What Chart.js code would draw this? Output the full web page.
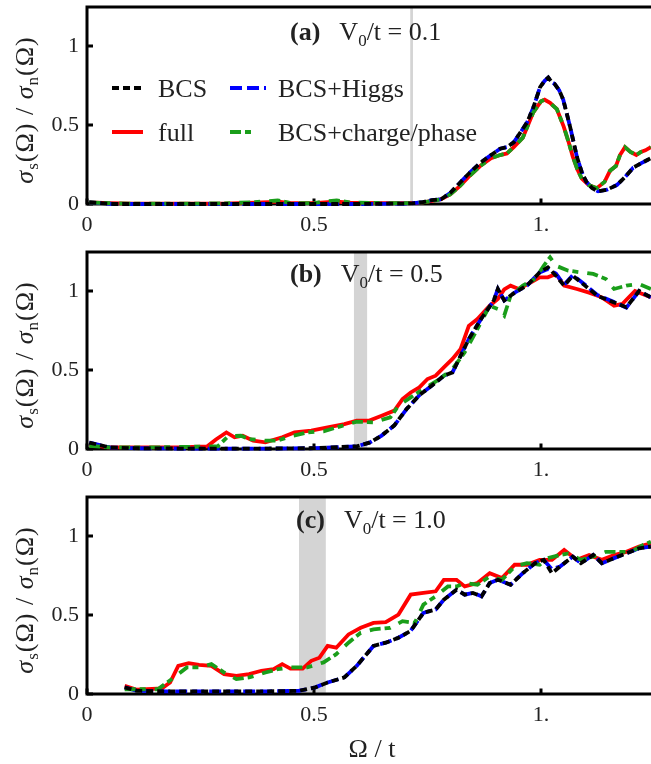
<!DOCTYPE html>
<html><head><meta charset="utf-8">
<script src="https://cdn.jsdelivr.net/npm/chart.js@4/dist/chart.umd.min.js"></script>
<style>
body{margin:0;background:#fff;width:651px;height:764px;overflow:hidden;position:relative;font-family:"Liberation Serif",serif;color:#222;}
canvas{position:absolute;left:0;}
.yt{position:absolute;white-space:nowrap;font-size:26px;letter-spacing:1px;transform:translate(-50%,-50%) rotate(-90deg);}
.yt i{font-style:italic;}
.yt sub{font-size:17px;vertical-align:-5px;}
.pt{position:absolute;white-space:nowrap;font-size:26px;line-height:26px;}
.pt sub{font-size:17px;vertical-align:-6px;}
.lg{position:absolute;white-space:nowrap;font-size:26px;line-height:26px;}
.sw{position:absolute;}
.xt{position:absolute;white-space:nowrap;font-size:26px;transform:translate(-50%,-50%);}
</style>
</head><body>
<canvas id="ca" width="651" height="245" style="top:0px"></canvas>
<canvas id="cb" width="651" height="245" style="top:245px"></canvas>
<canvas id="cc" width="651" height="245" style="top:490px"></canvas>

<div class="yt" style="left:26px;top:110px"><i>σ</i><sub>s</sub>(Ω) / <i>σ</i><sub>n</sub>(Ω)</div>
<div class="yt" style="left:26px;top:355px"><i>σ</i><sub>s</sub>(Ω) / <i>σ</i><sub>n</sub>(Ω)</div>
<div class="yt" style="left:26px;top:600px"><i>σ</i><sub>s</sub>(Ω) / <i>σ</i><sub>n</sub>(Ω)</div>

<div class="pt" style="left:290px;top:19px"><b>(a)</b>&nbsp;&nbsp; V<sub>0</sub>/t = 0.1</div>
<div class="pt" style="left:290px;top:261px"><b>(b)</b>&nbsp;&nbsp; V<sub>0</sub>/t = 0.5</div>
<div class="pt" style="left:296px;top:507px"><b>(c)</b>&nbsp;&nbsp; V<sub>0</sub>/t = 1.0</div>

<svg class="sw" style="left:112px;top:83px" width="30" height="10"><line x1="0" y1="5" x2="30" y2="5" stroke="#000" stroke-width="4" stroke-dasharray="7 4"/></svg>
<div class="lg" style="left:158px;top:76px">BCS</div>
<svg class="sw" style="left:230px;top:83px" width="36" height="10"><line x1="0" y1="5" x2="36" y2="5" stroke="#0000ff" stroke-width="4" stroke-dasharray="12 5"/></svg>
<div class="lg" style="left:278px;top:76px">BCS+Higgs</div>
<svg class="sw" style="left:112px;top:127px" width="31" height="10"><line x1="0" y1="5" x2="31" y2="5" stroke="#ff0000" stroke-width="4"/></svg>
<div class="lg" style="left:158px;top:120px">full</div>
<svg class="sw" style="left:230px;top:127px" width="30" height="10"><line x1="0" y1="5" x2="30" y2="5" stroke="#1a9e1a" stroke-width="4" stroke-dasharray="11 4 6 9"/></svg>
<div class="lg" style="left:278px;top:120px">BCS+charge/phase</div>

<div class="xt" style="left:372px;top:749px">Ω / t</div>

<script>
// ---------- axis ticks ----------
const X_MIN = 0, X_MAX = 1.2423;
const Y_MIN = 0, Y_MAX = 1.247;
const X_TICKS = [0, 0.5, 1];
const X_TICK_LABELS = ["0", "0.5", "1."];
const Y_TICKS = [0, 0.5, 1];
const Y_TICK_LABELS = ["0", "0.5", "1"];

// ---------- grey bands (Ω/t) ----------
const BAND_A = [0.712, 0.718];
const BAND_B = [0.588, 0.617];
const BAND_C = [0.467, 0.526];

// ---------- panel (a) V0/t = 0.1 ----------
const A_BCS_X = [0.005,0.03,0.06,0.1,0.2,0.3,0.4,0.5,0.6,0.7,0.72,0.74,0.76,0.78,0.8,0.82,0.84,0.866,0.89,0.91,0.925,0.94,0.954,0.97,0.983,0.998,1.008,1.016,1.024,1.03,1.04,1.049,1.064,1.079,1.09,1.1,1.113,1.126,1.145,1.167,1.185,1.203,1.222,1.242];
const A_BCS_Y = [0.01,0.005,0,0,0,0,0,0,0,0.003,0.005,0.012,0.025,0.03,0.07,0.13,0.19,0.26,0.31,0.35,0.36,0.39,0.45,0.52,0.61,0.74,0.78,0.80,0.77,0.76,0.72,0.66,0.49,0.30,0.2,0.14,0.1,0.08,0.09,0.12,0.17,0.23,0.26,0.29];
const A_HIG_X = [0.005,0.03,0.06,0.1,0.2,0.3,0.4,0.5,0.6,0.7,0.72,0.74,0.76,0.78,0.8,0.82,0.84,0.866,0.89,0.91,0.925,0.94,0.954,0.97,0.983,0.998,1.008,1.016,1.024,1.03,1.04,1.049,1.064,1.079,1.09,1.1,1.113,1.126,1.145,1.167,1.185,1.203,1.222,1.242];
const A_HIG_Y = [0.01,0.005,0,0,0,0,0,0,0,0.003,0.005,0.012,0.025,0.03,0.07,0.13,0.19,0.26,0.31,0.35,0.36,0.39,0.45,0.52,0.61,0.74,0.78,0.80,0.77,0.76,0.72,0.66,0.49,0.30,0.2,0.14,0.1,0.08,0.09,0.12,0.17,0.23,0.26,0.29];
const A_FULL_X = [0.005,0.05,0.1,0.2,0.3,0.37,0.4,0.42,0.45,0.5,0.53,0.55,0.58,0.65,0.7,0.72,0.74,0.76,0.78,0.8,0.82,0.84,0.866,0.89,0.91,0.925,0.94,0.96,0.983,1.0,1.008,1.02,1.035,1.05,1.06,1.07,1.08,1.09,1.105,1.123,1.14,1.152,1.165,1.174,1.185,1.197,1.21,1.22,1.23,1.242];
const A_FULL_Y = [0.01,0.005,0.002,0.002,0.003,0.008,0.012,0.015,0.005,0.005,0.012,0.015,0.008,0.005,0.005,0.006,0.01,0.02,0.03,0.06,0.11,0.17,0.24,0.29,0.31,0.32,0.36,0.42,0.58,0.65,0.66,0.64,0.60,0.49,0.40,0.30,0.22,0.16,0.12,0.10,0.14,0.21,0.24,0.31,0.36,0.33,0.31,0.33,0.34,0.36];
const A_CP_X = [0.005,0.05,0.1,0.2,0.3,0.37,0.4,0.42,0.45,0.5,0.53,0.55,0.58,0.65,0.7,0.72,0.74,0.76,0.78,0.8,0.82,0.84,0.866,0.89,0.91,0.925,0.94,0.96,0.983,1.0,1.008,1.02,1.035,1.05,1.06,1.07,1.08,1.09,1.105,1.123,1.14,1.152,1.165,1.174,1.185,1.197,1.21,1.22,1.23,1.242];
const A_CP_Y = [0.01,0.005,0.002,0.002,0.004,0.012,0.018,0.022,0.006,0.006,0.018,0.022,0.01,0.006,0.005,0.006,0.01,0.02,0.03,0.06,0.11,0.17,0.24,0.29,0.31,0.32,0.36,0.42,0.58,0.65,0.66,0.64,0.60,0.49,0.40,0.30,0.22,0.16,0.12,0.10,0.14,0.21,0.24,0.31,0.36,0.33,0.31,0.33,0.34,0.36];

// ---------- panel (b) V0/t = 0.5 ----------
const B_BCS_X = [0.005,0.05,0.1,0.2,0.3,0.4,0.5,0.594,0.622,0.649,0.677,0.704,0.732,0.759,0.786,0.805,0.823,0.841,0.868,0.896,0.905,0.919,0.942,0.969,0.997,1.015,1.033,1.051,1.07,1.097,1.124,1.161,1.188,1.216,1.242];
const B_BCS_Y = [0.04,0.01,0.005,0.003,0.003,0.003,0.005,0.017,0.04,0.085,0.15,0.253,0.34,0.40,0.464,0.485,0.59,0.696,0.823,0.94,1.013,0.94,0.99,1.034,1.118,1.15,1.097,1.034,1.097,1.034,0.97,0.928,0.897,1.0,0.96];
const B_HIG_X = [0.005,0.05,0.1,0.2,0.3,0.4,0.5,0.594,0.622,0.649,0.677,0.704,0.732,0.759,0.786,0.805,0.823,0.841,0.868,0.896,0.905,0.919,0.942,0.969,0.997,1.015,1.033,1.051,1.07,1.097,1.124,1.161,1.188,1.216,1.242];
const B_HIG_Y = [0.04,0.01,0.005,0.003,0.003,0.003,0.005,0.017,0.04,0.085,0.15,0.253,0.34,0.40,0.464,0.485,0.59,0.696,0.823,0.94,1.013,0.94,0.99,1.034,1.118,1.14,1.11,1.04,1.1,1.04,0.975,0.93,0.895,1.0,0.96];
const B_FULL_X = [0.005,0.046,0.13,0.2,0.265,0.284,0.307,0.325,0.343,0.366,0.393,0.43,0.457,0.494,0.53,0.567,0.594,0.622,0.649,0.677,0.695,0.713,0.732,0.75,0.768,0.786,0.805,0.823,0.841,0.86,0.887,0.905,0.919,0.933,0.951,0.978,0.997,1.015,1.033,1.051,1.079,1.106,1.134,1.161,1.179,1.207,1.225,1.242];
const B_FULL_Y = [0.03,0.01,0.01,0.01,0.017,0.06,0.105,0.074,0.084,0.053,0.042,0.074,0.105,0.116,0.137,0.158,0.18,0.18,0.21,0.243,0.316,0.358,0.39,0.443,0.464,0.517,0.57,0.633,0.78,0.823,0.907,0.95,1.01,1.034,1.013,1.055,1.087,1.087,1.108,1.034,1.013,0.99,0.96,0.907,0.918,1.0,0.98,0.96];
const B_CP_X = [0.005,0.05,0.15,0.288,0.311,0.339,0.357,0.393,0.42,0.448,0.485,0.521,0.558,0.594,0.631,0.668,0.686,0.713,0.741,0.777,0.805,0.832,0.86,0.887,0.905,0.919,0.933,0.96,0.987,1.006,1.02,1.033,1.06,1.088,1.115,1.143,1.161,1.188,1.216,1.242];
const B_CP_Y = [0.02,0.01,0.01,0.017,0.08,0.084,0.063,0.053,0.053,0.08,0.105,0.112,0.143,0.173,0.169,0.2,0.274,0.327,0.38,0.443,0.506,0.612,0.76,0.907,0.886,0.844,0.97,1.034,1.076,1.16,1.213,1.16,1.129,1.118,1.108,1.076,1.013,1.034,1.045,1.013];

// ---------- panel (c) V0/t = 1.0 ----------
const C_BCS_X = [0.083,0.11,0.174,0.3,0.4,0.466,0.503,0.53,0.567,0.594,0.631,0.658,0.686,0.713,0.741,0.768,0.786,0.814,0.832,0.85,0.869,0.887,0.905,0.933,0.96,0.987,1.006,1.024,1.042,1.07,1.088,1.115,1.134,1.161,1.188,1.216,1.242];
const C_BCS_Y = [0.042,0.02,0.017,0.017,0.017,0.02,0.042,0.073,0.105,0.178,0.304,0.325,0.356,0.4,0.514,0.535,0.597,0.66,0.629,0.64,0.618,0.702,0.723,0.692,0.765,0.828,0.849,0.765,0.807,0.87,0.828,0.88,0.828,0.86,0.89,0.922,0.933];
const C_HIG_X = [0.083,0.11,0.174,0.3,0.4,0.466,0.503,0.53,0.567,0.594,0.631,0.658,0.686,0.713,0.741,0.768,0.786,0.814,0.832,0.85,0.869,0.887,0.905,0.933,0.96,0.987,1.006,1.024,1.042,1.07,1.088,1.115,1.134,1.161,1.188,1.216,1.242];
const C_HIG_Y = [0.042,0.02,0.017,0.017,0.017,0.02,0.042,0.073,0.105,0.178,0.304,0.325,0.356,0.4,0.514,0.535,0.597,0.66,0.629,0.64,0.618,0.702,0.723,0.692,0.765,0.828,0.849,0.79,0.807,0.87,0.828,0.88,0.828,0.86,0.89,0.922,0.933];
const C_FULL_X = [0.083,0.11,0.165,0.183,0.201,0.224,0.247,0.274,0.302,0.329,0.357,0.384,0.411,0.43,0.448,0.475,0.494,0.512,0.53,0.549,0.576,0.603,0.631,0.658,0.686,0.713,0.741,0.768,0.786,0.814,0.832,0.86,0.887,0.914,0.942,0.969,0.997,1.024,1.051,1.079,1.106,1.134,1.161,1.188,1.216,1.242];
const C_FULL_Y = [0.052,0.027,0.036,0.073,0.178,0.195,0.184,0.178,0.126,0.115,0.126,0.147,0.157,0.189,0.161,0.161,0.21,0.23,0.304,0.293,0.377,0.419,0.45,0.455,0.503,0.629,0.64,0.65,0.723,0.723,0.681,0.702,0.765,0.734,0.818,0.818,0.849,0.849,0.912,0.849,0.88,0.849,0.88,0.9,0.933,0.954];
const C_CP_X = [0.083,0.156,0.192,0.22,0.247,0.274,0.302,0.329,0.357,0.393,0.42,0.448,0.485,0.521,0.549,0.576,0.603,0.631,0.668,0.695,0.722,0.741,0.768,0.795,0.814,0.832,0.86,0.887,0.914,0.942,0.969,0.997,1.015,1.042,1.06,1.088,1.115,1.143,1.17,1.198,1.225,1.242];
const C_CP_Y = [0.03,0.03,0.105,0.168,0.168,0.189,0.136,0.094,0.105,0.136,0.157,0.168,0.168,0.2,0.252,0.325,0.388,0.409,0.419,0.461,0.45,0.566,0.618,0.681,0.681,0.702,0.692,0.744,0.723,0.807,0.828,0.818,0.86,0.88,0.89,0.849,0.87,0.9,0.9,0.9,0.943,0.964];

// ---------- rendering ----------
const STY = {
  bcs:   {color:'#000000', dash:[7,4],        order:0},
  cp:    {color:'#1a9e1a', dash:[11,4,6,9],   order:1},
  higgs: {color:'#0000ff', dash:[12,5],       order:2},
  full:  {color:'#ff0000', dash:[],           order:3}
};
const FONT = {family:'"Liberation Serif", serif', size:22};

function pts(xs, ys){ return xs.map((x,i)=>({x:x, y:ys[i]})); }
function ds(key, xs, ys){
  const s = STY[key];
  return {label:key, data:pts(xs,ys), showLine:true, pointRadius:0, borderColor:s.color,
          backgroundColor:s.color, borderWidth:3.8, borderDash:s.dash, fill:false, tension:0,
          order:s.order, clip:6, borderCapStyle:'butt'};
}

const framePlugin = {
  id:'frame',
  beforeDatasetsDraw(chart, args, opts){
    const {ctx, chartArea:a, scales} = chart;
    const x = scales.x, y = scales.y;
    ctx.save();
    ctx.fillStyle = '#d4d4d4';
    const b0 = x.getPixelForValue(opts.band[0]), b1 = x.getPixelForValue(opts.band[1]);
    ctx.fillRect(b0, a.top, b1-b0, a.bottom-a.top);
    ctx.strokeStyle = '#000'; ctx.lineWidth = 3; ctx.lineCap='butt';
    ctx.beginPath();
    ctx.moveTo(a.right, a.top); ctx.lineTo(a.left-1.5, a.top);
    ctx.moveTo(a.left, a.top); ctx.lineTo(a.left, a.bottom+1.5);
    ctx.moveTo(a.left-1.5, a.bottom); ctx.lineTo(a.right, a.bottom);
    ctx.stroke();
    ctx.beginPath();
    X_TICKS.forEach(v=>{ const px = x.getPixelForValue(v); ctx.moveTo(px, a.bottom); ctx.lineTo(px, a.bottom-5.5); });
    Y_TICKS.forEach(v=>{ const py = y.getPixelForValue(v); ctx.moveTo(a.left, py); ctx.lineTo(a.left+6, py); });
    ctx.stroke();
    ctx.restore();
  }
};

function makeChart(id, band, sets){
  return new Chart(document.getElementById(id), {
    type:'scatter',
    data:{datasets:sets},
    options:{
      responsive:false, animation:false, events:[],
      layout:{padding:{top:7,left:0,right:0,bottom:0}},
      plugins:{legend:{display:false}, tooltip:{enabled:false}, frame:{band:band}},
      scales:{
        x:{type:'linear', min:X_MIN, max:X_MAX,
           grid:{display:false, drawTicks:false}, border:{display:false},
           ticks:{font:FONT, color:'#222', padding:8, maxRotation:0, autoSkip:false,
                  callback:(v,i)=>X_TICK_LABELS[i]},
           afterBuildTicks(s){ s.ticks = X_TICKS.map(v=>({value:v})); },
           afterFit(s){ s.height = 41; s.paddingLeft = 0; s.paddingRight = 0; }},
        y:{type:'linear', min:Y_MIN, max:Y_MAX,
           grid:{display:false, drawTicks:false}, border:{display:false},
           ticks:{font:FONT, color:'#222', padding:8, autoSkip:false,
                  callback:(v,i)=>Y_TICK_LABELS[i]},
           afterBuildTicks(s){ s.ticks = Y_TICKS.map(v=>({value:v})); },
           afterFit(s){ s.width = 87; s.paddingTop = 0; s.paddingBottom = 0; }}
      }
    },
    plugins:[framePlugin]
  });
}

makeChart('ca', BAND_A, [ds('bcs',A_BCS_X,A_BCS_Y), ds('cp',A_CP_X,A_CP_Y), ds('higgs',A_HIG_X,A_HIG_Y), ds('full',A_FULL_X,A_FULL_Y)]);
makeChart('cb', BAND_B, [ds('bcs',B_BCS_X,B_BCS_Y), ds('cp',B_CP_X,B_CP_Y), ds('higgs',B_HIG_X,B_HIG_Y), ds('full',B_FULL_X,B_FULL_Y)]);
makeChart('cc', BAND_C, [ds('bcs',C_BCS_X,C_BCS_Y), ds('cp',C_CP_X,C_CP_Y), ds('higgs',C_HIG_X,C_HIG_Y), ds('full',C_FULL_X,C_FULL_Y)]);
</script>
</body></html>
